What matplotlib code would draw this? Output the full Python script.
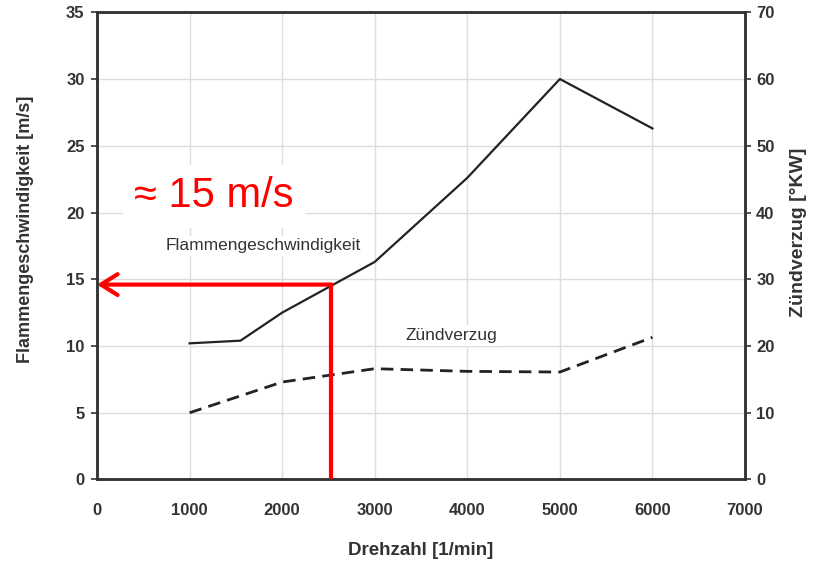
import numpy as np
import matplotlib.pyplot as plt

plt.rcParams['font.family'] = ['Liberation Sans', 'DejaVu Sans']

# Drehzahl in 1/min
drehzahl_flamme = [1000, 1550, 2000, 3000, 4000, 5000, 6000]
flammengeschw = [10.2, 10.4, 12.5, 16.3, 22.6, 30.0, 26.3]   # m/s

drehzahl_zv = [1000, 2000, 3000, 4000, 5000, 6000]
zuendverzug = [10.0, 14.6, 16.6, 16.2, 16.1, 21.3]            # °KW

n_punkt = 2530
v_punkt = 14.6

xticks = [0, 1000, 2000, 3000, 4000, 5000, 6000, 7000]
yticks_l = [0, 5, 10, 15, 20, 25, 30, 35]
yticks_r = [0, 10, 20, 30, 40, 50, 60, 70]

dark = '#333333'

fig = plt.figure(figsize=(8.18, 5.61), dpi=100)
ax = fig.add_axes([0.1186, 0.1453, 0.7922, 0.8328])
ax2 = ax.twinx()

ax.set_xlim(0, 7000)
ax.set_ylim(0, 35)
ax2.set_ylim(0, 70)

ax.set_xticks(xticks)
ax.set_yticks(yticks_l)
ax2.set_yticks(yticks_r)

ax.grid(True, color='#dddddd', linewidth=1.0)
ax.set_axisbelow(True)

for a in (ax, ax2):
    for s in a.spines.values():
        s.set_color(dark)
        s.set_linewidth(1.8)

ax.tick_params(axis='x', length=0, pad=17, labelsize=12, colors=dark)
ax.tick_params(axis='y', length=4, width=1.2, pad=5, labelsize=12, colors=dark)
ax2.tick_params(axis='y', length=4, width=1.2, pad=4, labelsize=12, colors=dark)
for lab in ax.get_xticklabels() + ax.get_yticklabels() + ax2.get_yticklabels():
    lab.set_fontweight('bold')

ax.plot(drehzahl_flamme, flammengeschw, color='#222222', linewidth=1.6, zorder=3)
ax2.plot(drehzahl_zv, zuendverzug, color='#222222', linewidth=2.0,
         dashes=(4.5, 2.6), zorder=3)

ax.set_xlabel('Drehzahl [1/min]', fontsize=13.5, fontweight='bold', color=dark, labelpad=17)
ax.set_ylabel('Flammengeschwindigkeit [m/s]', fontsize=13, fontweight='bold', color=dark)
ax.yaxis.set_label_coords(-0.097, 0.536)
ax2.set_ylabel('Zündverzug [°KW]', fontsize=14, fontweight='bold', color=dark)
ax2.yaxis.set_label_coords(1.069, 0.53)

box = dict(facecolor='white', edgecolor='none', pad=2)
ax.text(1793, 17.5, 'Flammengeschwindigkeit', fontsize=12.5, color=dark,
        ha='center', va='center', bbox=box, zorder=4)
ax.text(3824, 10.8, 'Zündverzug', fontsize=12.5, color=dark,
        ha='center', va='center', bbox=box, zorder=4)

# Ablesung bei n_punkt
ax2.set_zorder(ax.get_zorder() + 1)
ax2.patch.set_visible(False)
ax2.plot([n_punkt, n_punkt], [0, v_punkt * 2], color='red', linewidth=3, zorder=5)
ax2.annotate('', xy=(0, v_punkt * 2), xytext=(n_punkt, v_punkt * 2),
             arrowprops=dict(arrowstyle='->, head_length=1.2, head_width=0.75',
                             color='red', linewidth=3, shrinkA=0, shrinkB=0),
             zorder=5)
ax2.text(1264, 21.2 * 2, '≈ 15 m/s', fontsize=30, color='red',
         ha='center', va='center',
         bbox=dict(facecolor='white', edgecolor='none', pad=8), zorder=5)

fig.savefig('out.png', dpi=100)
